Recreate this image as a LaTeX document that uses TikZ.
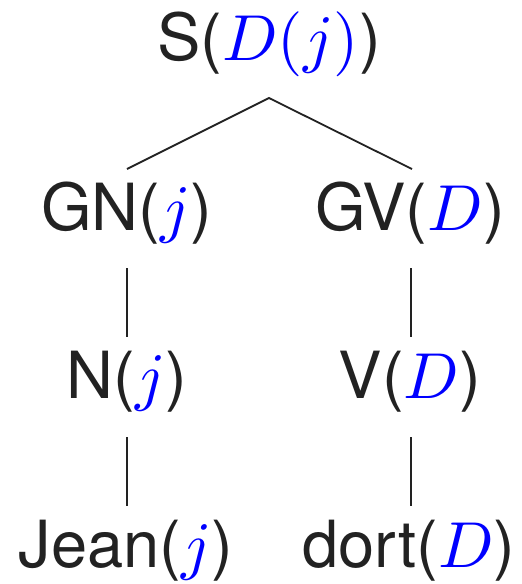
\documentclass[tikz,border=0pt]{standalone}
\usepackage{fontspec}
\setmainfont{TeX Gyre Heros}
\definecolor{ink}{RGB}{34,34,34}
\newcommand{\bl}[1]{\textcolor{blue}{$#1$}}
\newcommand{\hugetxt}[1]{\scalebox{6.5}{\fontsize{10}{12}\selectfont #1}}
\tikzset{
  lbl/.style={anchor=base, inner sep=0pt, text=ink},
  edge/.style={draw=ink, line width=1.8pt}
}
\begin{document}
\begin{tikzpicture}[x=1pt,y=1pt]
\useasboundingbox (0,0) rectangle (522,-584);
\node[lbl] (s)    at (269,-60)  {\hugetxt{S(\bl{D(j)})}};
\node[lbl] (gn)   at (127,-230) {\hugetxt{GN(\bl{j})}};
\node[lbl] (gv)   at (410,-230) {\hugetxt{GV(\bl{D})}};
\node[lbl] (n)    at (127,-398) {\hugetxt{N(\bl{j})}};
\node[lbl] (v)    at (410,-398) {\hugetxt{V(\bl{D})}};
\node[lbl] (jean) at (126,-567) {\hugetxt{Jean(\bl{j})}};
\node[lbl] (dort) at (409,-567) {\hugetxt{dort(\bl{D})}};
\coordinate (top) at ([yshift=-38pt]s.base);
\draw[edge] ([yshift=61pt]gn.base) -- (top) -- ([yshift=61pt,xshift=2pt]gv.base);
\draw[edge] ([yshift=-38pt]gn.base) -- ([yshift=61pt]n.base);
\draw[edge] ([yshift=-38pt,xshift=1pt]gv.base) -- ([yshift=61pt,xshift=1pt]v.base);
\draw[edge] ([yshift=-39pt]n.base) -- ([yshift=61pt,xshift=1pt]jean.base);
\draw[edge] ([yshift=-39pt,xshift=1pt]v.base) -- ([yshift=61pt,xshift=2pt]dort.base);
\end{tikzpicture}
\end{document}
